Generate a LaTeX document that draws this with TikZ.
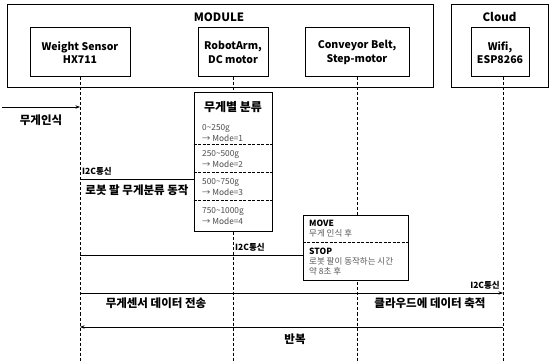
\documentclass[tikz,border=0pt]{standalone}
\usepackage{fontspec}
\setmainfont{Noto Sans CJK KR}
\usetikzlibrary{positioning,calc,arrows.meta}

\begin{document}
\begin{tikzpicture}[
  x=1pt, y=-1pt,
  font=\fontsize{8}{10}\selectfont,
  group/.style={draw, line width=1pt, inner sep=0pt},
  part/.style={draw, line width=1pt, fill=white, align=center, inner sep=1pt,
               font=\fontsize{10.5}{13.5}\selectfont\bfseries, minimum height=49pt},
  grp/.style={font=\fontsize{11.5}{13}\selectfont\bfseries, inner sep=0pt},
  life/.style={line width=1pt, dash pattern=on 3pt off 2pt},
  sep/.style={line width=1pt, dash pattern=on 3pt off 1.5pt},
  msg/.style={line width=0.9pt},
  arr/.style={msg, -{Stealth[length=1.6mm, width=1.2mm]}},
  lbl/.style={font=\fontsize{11.5}{13}\selectfont\bfseries, inner sep=0pt},
  tag/.style={font=\fontsize{8.5}{9}\selectfont\bfseries, inner sep=0pt},
  item/.style={align=left, anchor=west, inner sep=0pt, text=black!70,
               font=\fontsize{8.3}{11}\selectfont},
  note/.style={align=left, anchor=north west, inner sep=0pt, text=black!65,
               font=\fontsize{8.5}{10}\selectfont},
]
\useasboundingbox (0,0) rectangle (554,363);

% groups
\node[group, minimum width=426pt, minimum height=83pt] (module) at (220,46.5) {};
\node[grp] (moduletitle) at (219,17) {MODULE};
\node[group, minimum width=97pt, minimum height=83pt] (cloud) at (499.5,46.5) {};
\node[grp] (cloudtitle) at (499.5,17) {Cloud};

% participants
\node[part, minimum width=100pt] (sensor) at (80,52.5) {Weight Sensor\\HX711};
\node[part, minimum width=70pt] (arm) at (233,52.5) {RobotArm,\\DC motor};
\node[part, minimum width=104pt] (belt) at (357,52.5) {Conveyor Belt,\\Step-motor};
\node[part, minimum width=58pt] (wifi) at (500,52.5) {Wifi,\\ESP8266};

% lifelines
\coordinate (sensorEnd) at (80,363);
\coordinate (armEnd) at (233,363);
\coordinate (beltEnd) at (357,363);
\coordinate (wifiEnd) at (503,363);
\draw[life] (sensor.south) -- (sensorEnd);
\draw[life] (arm.south) -- (armEnd);
\draw[life] (belt.south) -- (beltEnd);
\draw[life] (wifi.south -| wifiEnd) -- (wifiEnd);

% sorting box
\node[draw, line width=1pt, fill=white, minimum width=78pt, minimum height=139pt,
      inner sep=0pt] (sort) at (233,162.5) {};
\node[lbl, font=\fontsize{12}{13}\selectfont\bfseries] (sorttitle) at (233,107) {무게별 분류};
\node[item] (mode1) at (202,133) {0\textasciitilde250g\\→ Mode=1};
\node[item] (mode2) at (202,159) {250\textasciitilde500g\\→ Mode=2};
\node[item] (mode3) at (202,187) {500\textasciitilde750g\\→ Mode=3};
\node[item] (mode4) at (202,216) {750\textasciitilde1000g\\→ Mode=4};
\draw[sep] (sort.west |- 0,145) -- (sort.east |- 0,145);
\draw[sep] (sort.west |- 0,173) -- (sort.east |- 0,173);
\draw[sep] (sort.west |- 0,201) -- (sort.east |- 0,201);

% belt box
\node[draw, line width=1pt, fill=white, minimum width=105pt, minimum height=65pt,
      inner sep=0pt] (move) at (355.5,248.5) {};
\node[note] (movetext) at (309,220) {{\fontsize{8.5}{10}\selectfont\bfseries\color{black} MOVE}\\무게 인식 후};
\node[note] (stoptext) at (309,248) {{\fontsize{8.5}{10}\selectfont\bfseries\color{black} STOP}\\로봇 팔이 동작하는 시간\\약 8초 후};
\draw[sep] (move.west |- 0,243) -- (move.east |- 0,243);

% messages
\coordinate (start) at (2,107);
\draw[arr] (start) -- (sensor |- start);
\node[lbl] (sense) at (41,120) {무게인식};

\coordinate (i2cA) at (80,179);
\draw[msg] (i2cA) -- (sort.west |- i2cA);
\node[tag, anchor=south west] (tagA) at (82,176) {I2C통신};
\node[lbl] (armmsg) at (137,190) {로봇 팔 무게분류 동작};

\coordinate (i2cB) at (80,255);
\draw[msg] (i2cB) -- (move.west |- i2cB);
\node[tag, anchor=south west] (tagB) at (235,252) {I2C통신};

\coordinate (sendA) at (80,293);
\draw[arr] (sendA) -- (wifiEnd |- sendA);
\node[tag, anchor=south east] (tagC) at (500,290) {I2C통신};
\node[lbl] (sendmsg) at (156,303) {무게센서 데이터 전송};
\node[lbl] (storemsg) at (430,303) {클라우드에 데이터 축적};

\coordinate (backA) at (503,327);
\draw[arr] (backA) -- (sensorEnd |- backA);
\node[lbl] (repeat) at (295,339) {반복};
\end{tikzpicture}
\end{document}
